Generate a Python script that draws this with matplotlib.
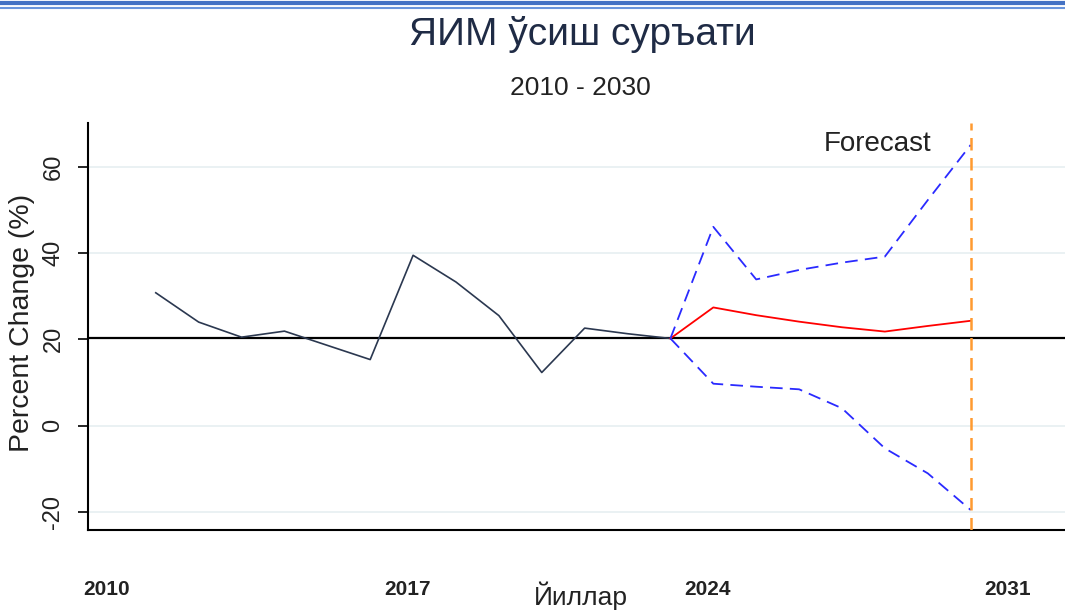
import matplotlib
matplotlib.use('Agg')
import matplotlib.pyplot as plt
from matplotlib.lines import Line2D
from matplotlib.transforms import ScaledTranslation

# GDP growth, history and forecast (percent)
years_hist = [2011, 2012, 2013, 2014, 2015, 2016, 2017,
              2018, 2019, 2020, 2021, 2022, 2023]
growth_hist = [30.8, 24.0, 20.5, 21.9, 18.6, 15.3, 39.5,
               33.3, 25.5, 12.3, 22.6, 21.3, 20.2]

years_fc = [2023, 2024, 2025, 2026, 2027, 2028, 2029, 2030]
fc_mean = [20.2, 27.4, 25.6, 24.1, 22.8, 21.8, 23.1, 24.3]
fc_upper = [20.2, 46.1, 33.9, 36.1, 37.8, 39.2, 52.3, 65.1]
fc_lower = [20.2, 9.7, 9.0, 8.4, 4.0, -5.3, -11.1, -19.6]

ref_level = 20.2
forecast_end = 2030
x_ticks = [2010, 2017, 2024, 2031]
y_ticks = [-20, 0, 20, 40, 60]
grid_levels = [-20, 0, 40, 60]

plt.rcParams['font.family'] = ['Liberation Sans', 'DejaVu Sans']

fig = plt.figure(figsize=(10.65, 6.12), dpi=100)
ax = fig.add_axes([88 / 1065, 1 - 530 / 612, 1 - 88 / 1065, (530 - 123) / 612])

for g in grid_levels:
    ax.axhline(g, color='#e6eff1', linewidth=1.2, zorder=0)

ax.plot(years_hist, growth_hist, color='#2b3850', linewidth=1.2, zorder=3)
ax.plot(years_fc, fc_mean, color='red', linewidth=1.3, zorder=3)
ax.plot(years_fc, fc_upper, color='#2a2aff', linewidth=1.3,
        linestyle=(0, (7, 4)), zorder=3)
ax.plot(years_fc, fc_lower, color='#2a2aff', linewidth=1.3,
        linestyle=(0, (7, 4)), zorder=3)
ax.axhline(ref_level, color='black', linewidth=1.6, zorder=2)
ax.axvline(forecast_end, color='#ff9a30', linewidth=1.8,
           linestyle=(0, (5, 3)), zorder=4)
ax.text(2026.57, 65.3, 'Forecast', fontsize=20, color='#222222',
        va='center', ha='left')

ax.set_xlim(2009.42, 2032.2)
ax.set_ylim(-24.25, 70.2)
ax.set_xticks(x_ticks)
ax.set_xticklabels([str(t) for t in x_ticks], fontsize=15,
                   fontweight='bold', color='#222222')
ax.tick_params(axis='x', length=0, pad=36)
shift = ScaledTranslation(-6 / 100, 0, fig.dpi_scale_trans)
for lab in ax.get_xticklabels():
    lab.set_transform(lab.get_transform() + shift)
ax.set_yticks(y_ticks)
ax.set_yticklabels([str(t) for t in y_ticks], fontsize=17,
                   rotation=90, va='center', color='#222222')
ax.tick_params(axis='y', length=7, width=1.2, pad=10)

for side in ['top', 'right']:
    ax.spines[side].set_visible(False)
for side in ['left', 'bottom']:
    ax.spines[side].set_linewidth(1.5)
    ax.spines[side].set_color('black')

fig.text(22 / 1065, 1 - 323 / 612, 'Percent Change (%)', rotation=90,
         fontsize=20.5, ha='center', va='center', color='#222222')
fig.text(581 / 1065, 1 - 605 / 612, 'Йиллар', fontsize=19,
         ha='center', va='baseline', color='#222222')
fig.text(582 / 1065, 1 - 45 / 612, 'ЯИМ ўсиш суръати', fontsize=28,
         ha='center', va='baseline', color='#1f2b45')
fig.text(580 / 1065, 1 - 95 / 612, '2010 - 2030', fontsize=19,
         ha='center', va='baseline', color='#222222')

# double blue rule across the top
fig.add_artist(Line2D([0, 1], [1 - 3 / 612, 1 - 3 / 612],
                      color='#4472c4', linewidth=3.0,
                      transform=fig.transFigure))
fig.add_artist(Line2D([0, 1], [1 - 8 / 612, 1 - 8 / 612],
                      color='#6a95dc', linewidth=1.5,
                      transform=fig.transFigure))

fig.savefig('out.png', dpi=100)
